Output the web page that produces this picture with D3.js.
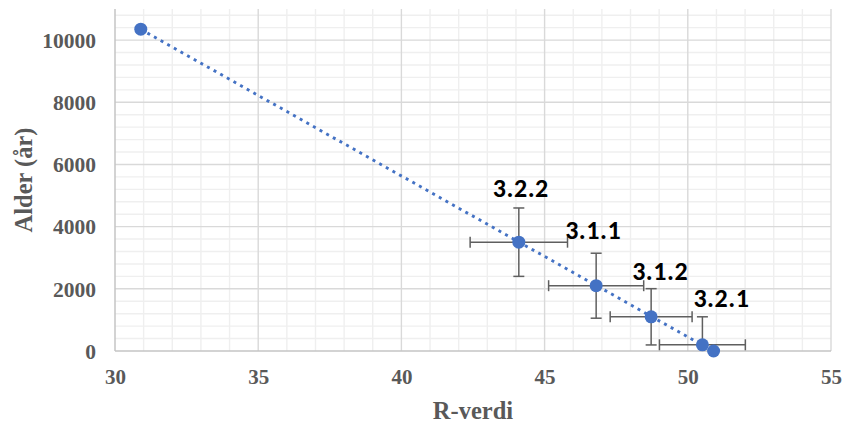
<!DOCTYPE html>
<html>
<head>
<meta charset="utf-8">
<script src="https://cdn.jsdelivr.net/npm/d3@7"></script>
<style>
  html, body { margin: 0; padding: 0; background: #ffffff; }
  svg { display: block; }
</style>
</head>
<body>
<svg id="chart" width="844" height="425"></svg>
<script>
// ---- Data ----
const rValues   = [30.9, 44.1, 46.8, 48.72, 50.51, 50.9];      // R-verdi
const ages      = [10350, 3500, 2100, 1100, 200, 0];            // Alder (år)
const xErrors   = [0, 1.7, 1.66, 1.43, 1.5, 0];                  // ± R-verdi
const yErrors   = [0, 1100, 1045, 905, 900, 0];                  // ± år
const pointLabels = ["", "3.2.2", "3.1.1", "3.1.2", "3.2.1", ""];
const xTicks = [30, 35, 40, 45, 50, 55];
const yTicks = [0, 2000, 4000, 6000, 8000, 10000];
const xTitle = "R-verdi";
const yTitle = "Alder (år)";

// label placement offsets in pixels (style, not data)
const labelOffsets = [[0,0],[2,-45],[-3,-47],[9,-37],[19,-38],[0,0]];

// ---- Layout ----
const W = 844, H = 425;
const margin = {left: 115, right: 13, top: 9, bottom: 74};
const pw = W - margin.left - margin.right;
const ph = H - margin.top - margin.bottom;

const x = d3.scaleLinear().domain([30, 55]).range([0, pw]);
const y = d3.scaleLinear().domain([0, 11000]).range([ph, 0]);

const svg = d3.select("#chart");
const g = svg.append("g").attr("transform", `translate(${margin.left},${margin.top})`);

svg.append("defs").append("clipPath").attr("id", "plotclip")
  .append("rect").attr("x", 0).attr("y", 0).attr("width", pw).attr("height", ph);

// ---- Grid ----
const minorX = d3.range(31, 55, 1).filter(v => v % 5 !== 0);
const minorY = d3.range(400, 11000, 400).filter(v => v % 2000 !== 0);

g.append("g").selectAll("line").data(minorX).join("line")
  .attr("x1", d => x(d)).attr("x2", d => x(d)).attr("y1", 0).attr("y2", ph)
  .attr("stroke", "#efefef").attr("stroke-width", 1.4);
g.append("g").selectAll("line").data(minorY).join("line")
  .attr("y1", d => y(d)).attr("y2", d => y(d)).attr("x1", 0).attr("x2", pw)
  .attr("stroke", "#efefef").attr("stroke-width", 1.4);

g.append("g").selectAll("line").data(xTicks.filter(v => v !== 30)).join("line")
  .attr("x1", d => x(d)).attr("x2", d => x(d)).attr("y1", 0).attr("y2", ph)
  .attr("stroke", "#d9d9d9").attr("stroke-width", 1.4);
g.append("g").selectAll("line").data(yTicks.filter(v => v !== 0)).join("line")
  .attr("y1", d => y(d)).attr("y2", d => y(d)).attr("x1", 0).attr("x2", pw)
  .attr("stroke", "#d9d9d9").attr("stroke-width", 1.4);

// axis lines
g.append("line").attr("x1", 0).attr("x2", 0).attr("y1", 0).attr("y2", ph)
  .attr("stroke", "#c4c4c4").attr("stroke-width", 1.5);
g.append("line").attr("x1", 0).attr("x2", pw).attr("y1", ph).attr("y2", ph)
  .attr("stroke", "#c4c4c4").attr("stroke-width", 1.5);

// ---- Axes (labels only) ----
const tickFont = "'Liberation Serif', 'Times New Roman', serif";
const xAxis = g.append("g").attr("transform", `translate(0,${ph})`)
  .call(d3.axisBottom(x).tickValues(xTicks).tickSize(0).tickFormat(d3.format("d")));
xAxis.select(".domain").remove();
xAxis.selectAll("text")
  .attr("y", 32.5).attr("dy", 0)
  .attr("font-family", tickFont).attr("font-weight", "bold")
  .attr("font-size", 21).attr("fill", "#595959");

const yAxis = g.append("g")
  .call(d3.axisLeft(y).tickValues(yTicks).tickSize(0).tickFormat(d3.format("d")));
yAxis.select(".domain").remove();
yAxis.selectAll("text")
  .attr("x", -19).attr("dy", "0.34em")
  .attr("font-family", tickFont).attr("font-weight", "bold")
  .attr("font-size", 21.5).attr("fill", "#595959");

// axis titles
svg.append("text")
  .attr("x", margin.left + pw / 2).attr("y", 419)
  .attr("text-anchor", "middle")
  .attr("font-family", tickFont).attr("font-weight", "bold")
  .attr("font-size", 24.5).attr("fill", "#595959")
  .text(xTitle);
svg.append("text")
  .attr("transform", `translate(32,${margin.top + ph / 2}) rotate(-90)`)
  .attr("text-anchor", "middle")
  .attr("font-family", tickFont).attr("font-weight", "bold")
  .attr("font-size", 24.5).attr("fill", "#595959")
  .text(yTitle);

// ---- Data table ----
const pts = rValues.map((r, i) => ({
  r, age: ages[i], ex: xErrors[i], ey: yErrors[i], label: pointLabels[i], off: labelOffsets[i]
}));

// ---- Error bars ----
const eb = g.append("g").attr("clip-path", "url(#plotclip)")
  .attr("stroke", "#5f5f5f").attr("stroke-width", 1.5).attr("fill", "none");
const cap = 5.5;
pts.filter(p => p.ex > 0 || p.ey > 0).forEach(p => {
  const cx = x(p.r), cy = y(p.age);
  // horizontal
  eb.append("line").attr("x1", x(p.r - p.ex)).attr("x2", x(p.r + p.ex)).attr("y1", cy).attr("y2", cy);
  eb.append("line").attr("x1", x(p.r - p.ex)).attr("x2", x(p.r - p.ex)).attr("y1", cy - cap).attr("y2", cy + cap);
  eb.append("line").attr("x1", x(p.r + p.ex)).attr("x2", x(p.r + p.ex)).attr("y1", cy - cap).attr("y2", cy + cap);
  // vertical
  eb.append("line").attr("x1", cx).attr("x2", cx).attr("y1", y(p.age - p.ey)).attr("y2", y(p.age + p.ey));
  eb.append("line").attr("x1", cx - cap).attr("x2", cx + cap).attr("y1", y(p.age - p.ey)).attr("y2", y(p.age - p.ey));
  eb.append("line").attr("x1", cx - cap).attr("x2", cx + cap).attr("y1", y(p.age + p.ey)).attr("y2", y(p.age + p.ey));
});

// ---- Linear trendline (least squares over the data) ----
const mx = d3.mean(rValues), my = d3.mean(ages);
const sxy = d3.sum(rValues, (v, i) => (v - mx) * (ages[i] - my));
const sxx = d3.sum(rValues, v => (v - mx) * (v - mx));
const slope = sxy / sxx, intercept = my - slope * mx;
const [xmin, xmax] = d3.extent(rValues);
const trend = [xmin, xmax].map(v => [v, intercept + slope * v]);
g.append("path")
  .attr("d", d3.line().x(d => x(d[0])).y(d => y(d[1]))(trend))
  .attr("fill", "none").attr("stroke", "#4472C4")
  .attr("stroke-width", 2.9).attr("stroke-dasharray", "3 4.6");

// ---- Markers ----
g.append("g").selectAll("circle").data(pts).join("circle")
  .attr("cx", d => x(d.r)).attr("cy", d => y(d.age)).attr("r", 6.5)
  .attr("fill", "#4472C4");

// ---- Point labels ----
g.append("g").selectAll("text").data(pts.filter(p => p.label)).join("text")
  .attr("x", d => x(d.r) + d.off[0]).attr("y", d => y(d.age) + d.off[1])
  .attr("text-anchor", "middle")
  .attr("font-family", "Carlito, 'Liberation Sans', Arial, sans-serif")
  .attr("font-weight", "bold").attr("font-size", 26).attr("letter-spacing", 0.5)
  .attr("fill", "#000000")
  .text(d => d.label);
</script>
</body>
</html>
